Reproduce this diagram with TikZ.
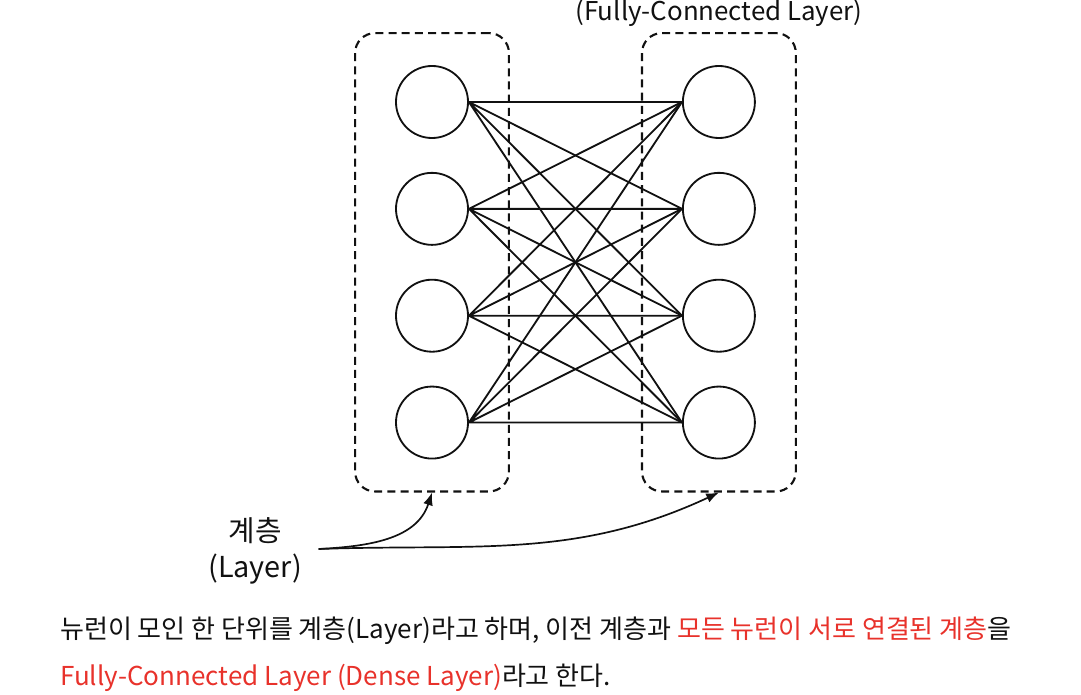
\documentclass[tikz,border=0pt]{standalone}
\usepackage{fontspec}
\setmainfont{Noto Sans CJK KR}
\usepackage{tikz}
\usepackage{xcolor}
\usetikzlibrary{positioning, arrows.meta, fit, calc}
\definecolor{cRed}{HTML}{E8322B}
\definecolor{cInk}{HTML}{111111}

\begin{document}
\begin{tikzpicture}[
      x=0.025cm, y=-0.025cm,
      node distance=0.825cm and 5.325cm,
      neuron/.style={draw=cInk, circle, minimum size=1.8cm, line width=1.3pt},
      layerbox/.style={draw=cInk, dash pattern=on 0.2cm off 0.13cm, rounded corners=0.5cm, line width=1.5pt, inner xsep=1cm, inner ysep=0.8cm},
      link/.style={draw=cInk, line width=1.3pt},
      arrow/.style={-{Latex[length=9pt, width=7pt]}, draw=cInk, line width=1.2pt},
      lbl/.style={font=\fontsize{20.5}{25}\selectfont, align=center, text=cInk},
      note/.style={font=\fontsize{18.5}{33.4}\selectfont, align=left, text=cInk, inner sep=0pt}
    ]
      \useasboundingbox (0,0) rectangle (1081,695);

      \node[neuron] (in1) at (432,102) {};
      \node[neuron, below=of in1] (in2) {};
      \node[neuron, below=of in2] (in3) {};
      \node[neuron, below=of in3] (in4) {};
      \node[neuron, right=of in1] (out1) {};
      \node[neuron, below=of out1] (out2) {};
      \node[neuron, below=of out2] (out3) {};
      \node[neuron, below=of out3] (out4) {};

      \draw[link] (in1.east) -- (out1.west) (in1.east) -- (out2.west) (in1.east) -- (out3.west) (in1.east) -- (out4.west);
      \draw[link] (in2.east) -- (out1.west) (in2.east) -- (out2.west) (in2.east) -- (out3.west) (in2.east) -- (out4.west);
      \draw[link] (in3.east) -- (out1.west) (in3.east) -- (out2.west) (in3.east) -- (out3.west) (in3.east) -- (out4.west);
      \draw[link] (in4.east) -- (out1.west) (in4.east) -- (out2.west) (in4.east) -- (out3.west) (in4.east) -- (out4.west);

      \node[layerbox, fit=(in1)(in4)] (inbox) {};
      \node[layerbox, fit=(out1)(out4)] (outbox) {};
      \node[lbl, font=\fontsize{18.4}{22}\selectfont, above=0pt of outbox] (fctitle) {(Fully-Connected Layer)};

      \node[lbl] (layer) at (255,551) {계층\\(Layer)};
      \coordinate (src) at ([xshift=0.3cm, yshift=0.05cm]layer.east);
      \draw[arrow] (src) to[out=3, in=-108] (inbox.south);
      \draw[arrow] (src) to[out=2, in=-155] (outbox.south);

      \node[note, anchor=west] (caption) at (60,654)
        {뉴런이 모인 한 단위를 계층(Layer)라고 하며, 이전 계층과 \textcolor{cRed}{모든 뉴런이 서로 연결된 계층}을\\
         \textcolor{cRed}{Fully-Connected Layer (Dense Layer)}라고 한다.};
    \end{tikzpicture}
\end{document}
